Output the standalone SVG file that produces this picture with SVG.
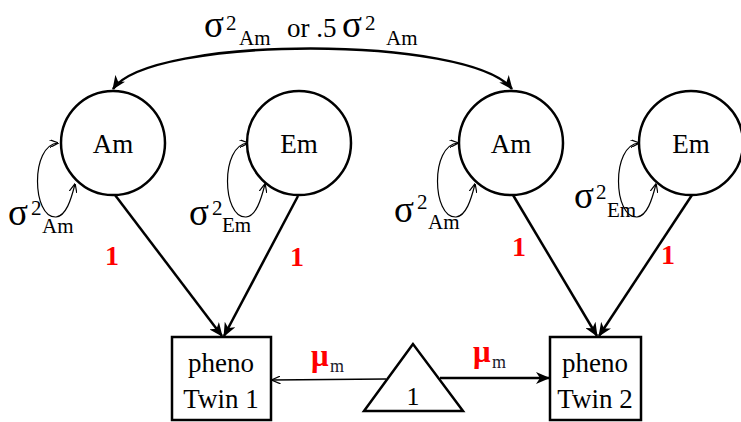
<svg xmlns="http://www.w3.org/2000/svg" width="741" height="422" viewBox="0 0 741 422">
<style>
.node{fill:#fff;stroke:#000;stroke-width:2.5}
.lbl{font-family:"Liberation Serif","Times New Roman",serif;fill:#000}
.big{font-size:27px}
.one{font-family:"Liberation Serif",serif;font-size:28px;font-weight:bold;fill:#ff0000}
.edge{fill:none;stroke:#000;stroke-width:2.5}
.loop{fill:none;stroke:#000;stroke-width:1.2}
.sg{font-size:37px}
.sup{font-size:21px}
.sub{font-size:21px}
.mu{font-family:"Liberation Serif",serif;font-size:31px;font-weight:bold;fill:#ff0000}
.mus{font-family:"Liberation Serif",serif;font-size:18px;fill:#1a1a2a}
</style>
<defs>
<marker id="arr" markerUnits="userSpaceOnUse" markerWidth="14" markerHeight="12" viewBox="0 0 14 12" refX="13" refY="6" orient="auto-start-reverse">
<path d="M0,0 L14,6 L0,12 L4,6 z" fill="#000"/>
</marker>
<marker id="sm" markerUnits="userSpaceOnUse" markerWidth="9" markerHeight="8" viewBox="0 0 9 8" refX="8.5" refY="4" orient="auto-start-reverse">
<path d="M0,0 L9,4 L0,8" fill="none" stroke="#000" stroke-width="1.2"/>
</marker>
</defs>

<g id="connectors">
<path class="edge" d="M113,89 C150,35 470,35 512,89" marker-start="url(#arr)" marker-end="url(#arr)"/>
<line class="edge" x1="115" y1="195" x2="222" y2="336" marker-end="url(#arr)"/>
<line class="edge" x1="298" y1="196" x2="224" y2="336" marker-end="url(#arr)"/>
<line class="edge" x1="513" y1="195" x2="597" y2="336" marker-end="url(#arr)"/>
<line class="edge" x1="692" y1="195" x2="599" y2="336" marker-end="url(#arr)"/>
<line x1="386" y1="379" x2="272" y2="380" stroke="#000" stroke-width="1.3" marker-end="url(#sm)"/>
<line class="edge" x1="440" y1="378" x2="549" y2="378" marker-end="url(#arr)"/>
<path class="loop" d="M58,143 C30,145 32,218 56,217 C66,216 71,200 75,184" marker-start="url(#sm)" marker-end="url(#sm)"/>
<path class="loop" d="M248,143 C220,145 222,218 246,217 C256,216 261,200 265,184" marker-start="url(#sm)" marker-end="url(#sm)"/>
<path class="loop" d="M458,143 C430,145 432,218 456,217 C466,216 471,200 475,184" marker-start="url(#sm)" marker-end="url(#sm)"/>
<path class="loop" d="M639,143 C611,145 613,218 637,217 C647,216 652,200 656,184" marker-start="url(#sm)" marker-end="url(#sm)"/>
</g>

<g id="Am1">
<circle class="node" cx="113" cy="143" r="52"/>
<text class="lbl big" x="113" y="153" text-anchor="middle">Am</text>
</g>
<g id="Em1">
<circle class="node" cx="299" cy="143" r="52"/>
<text class="lbl big" x="299" y="153" text-anchor="middle">Em</text>
</g>
<g id="Am2">
<circle class="node" cx="511" cy="143" r="52"/>
<text class="lbl big" x="511" y="153" text-anchor="middle">Am</text>
</g>
<g id="Em2">
<circle class="node" cx="691" cy="143" r="52"/>
<text class="lbl big" x="691" y="153" text-anchor="middle">Em</text>
</g>
<g id="Twin1">
<rect class="node" x="172" y="337" width="99" height="83"/>
<text class="lbl big" x="221" y="372" text-anchor="middle">pheno</text>
<text class="lbl big" x="221" y="408" text-anchor="middle">Twin 1</text>
</g>
<g id="Twin2">
<rect class="node" x="550" y="337" width="91" height="83"/>
<text class="lbl big" x="595" y="372" text-anchor="middle">pheno</text>
<text class="lbl big" x="595" y="408" text-anchor="middle">Twin 2</text>
</g>
<g id="Const">
<polygon class="node" points="413,344 364,411 463,411"/>
<text class="lbl" font-size="26" x="413" y="405" text-anchor="middle">1</text>
</g>

<g id="labels">
<text class="lbl"><tspan class="sg" x="204" y="37">σ</tspan><tspan class="sup" x="226" y="30">2</tspan><tspan class="sub" x="239" y="45">Am</tspan><tspan class="big" x="287" y="37">or .5</tspan><tspan class="sg" x="342" y="37">σ</tspan><tspan class="sup" x="365" y="30">2</tspan><tspan class="sub" x="386" y="45">Am</tspan></text>
<text class="lbl"><tspan class="sg" x="8" y="225">σ</tspan><tspan class="sup" x="31" y="215">2</tspan><tspan class="sub" x="42" y="233">Am</tspan></text>
<text class="lbl"><tspan class="sg" x="189" y="225">σ</tspan><tspan class="sup" x="212" y="215">2</tspan><tspan class="sub" x="222" y="232">Em</tspan></text>
<text class="lbl"><tspan class="sg" x="394" y="222">σ</tspan><tspan class="sup" x="417" y="209">2</tspan><tspan class="sub" x="428" y="229">Am</tspan></text>
<text class="lbl"><tspan class="sg" x="574" y="208">σ</tspan><tspan class="sup" x="596" y="199">2</tspan><tspan class="sub" x="607" y="217">Em</tspan></text>
<text class="one" x="112" y="265" text-anchor="middle">1</text>
<text class="one" x="297" y="266" text-anchor="middle">1</text>
<text class="one" x="519" y="256" text-anchor="middle">1</text>
<text class="one" x="668" y="264" text-anchor="middle">1</text>
<text><tspan class="mu" x="311" y="366">μ</tspan><tspan class="mus" x="330" y="372">m</tspan></text>
<text><tspan class="mu" x="473" y="362">μ</tspan><tspan class="mus" x="492" y="368">m</tspan></text>
</g>
</svg>
